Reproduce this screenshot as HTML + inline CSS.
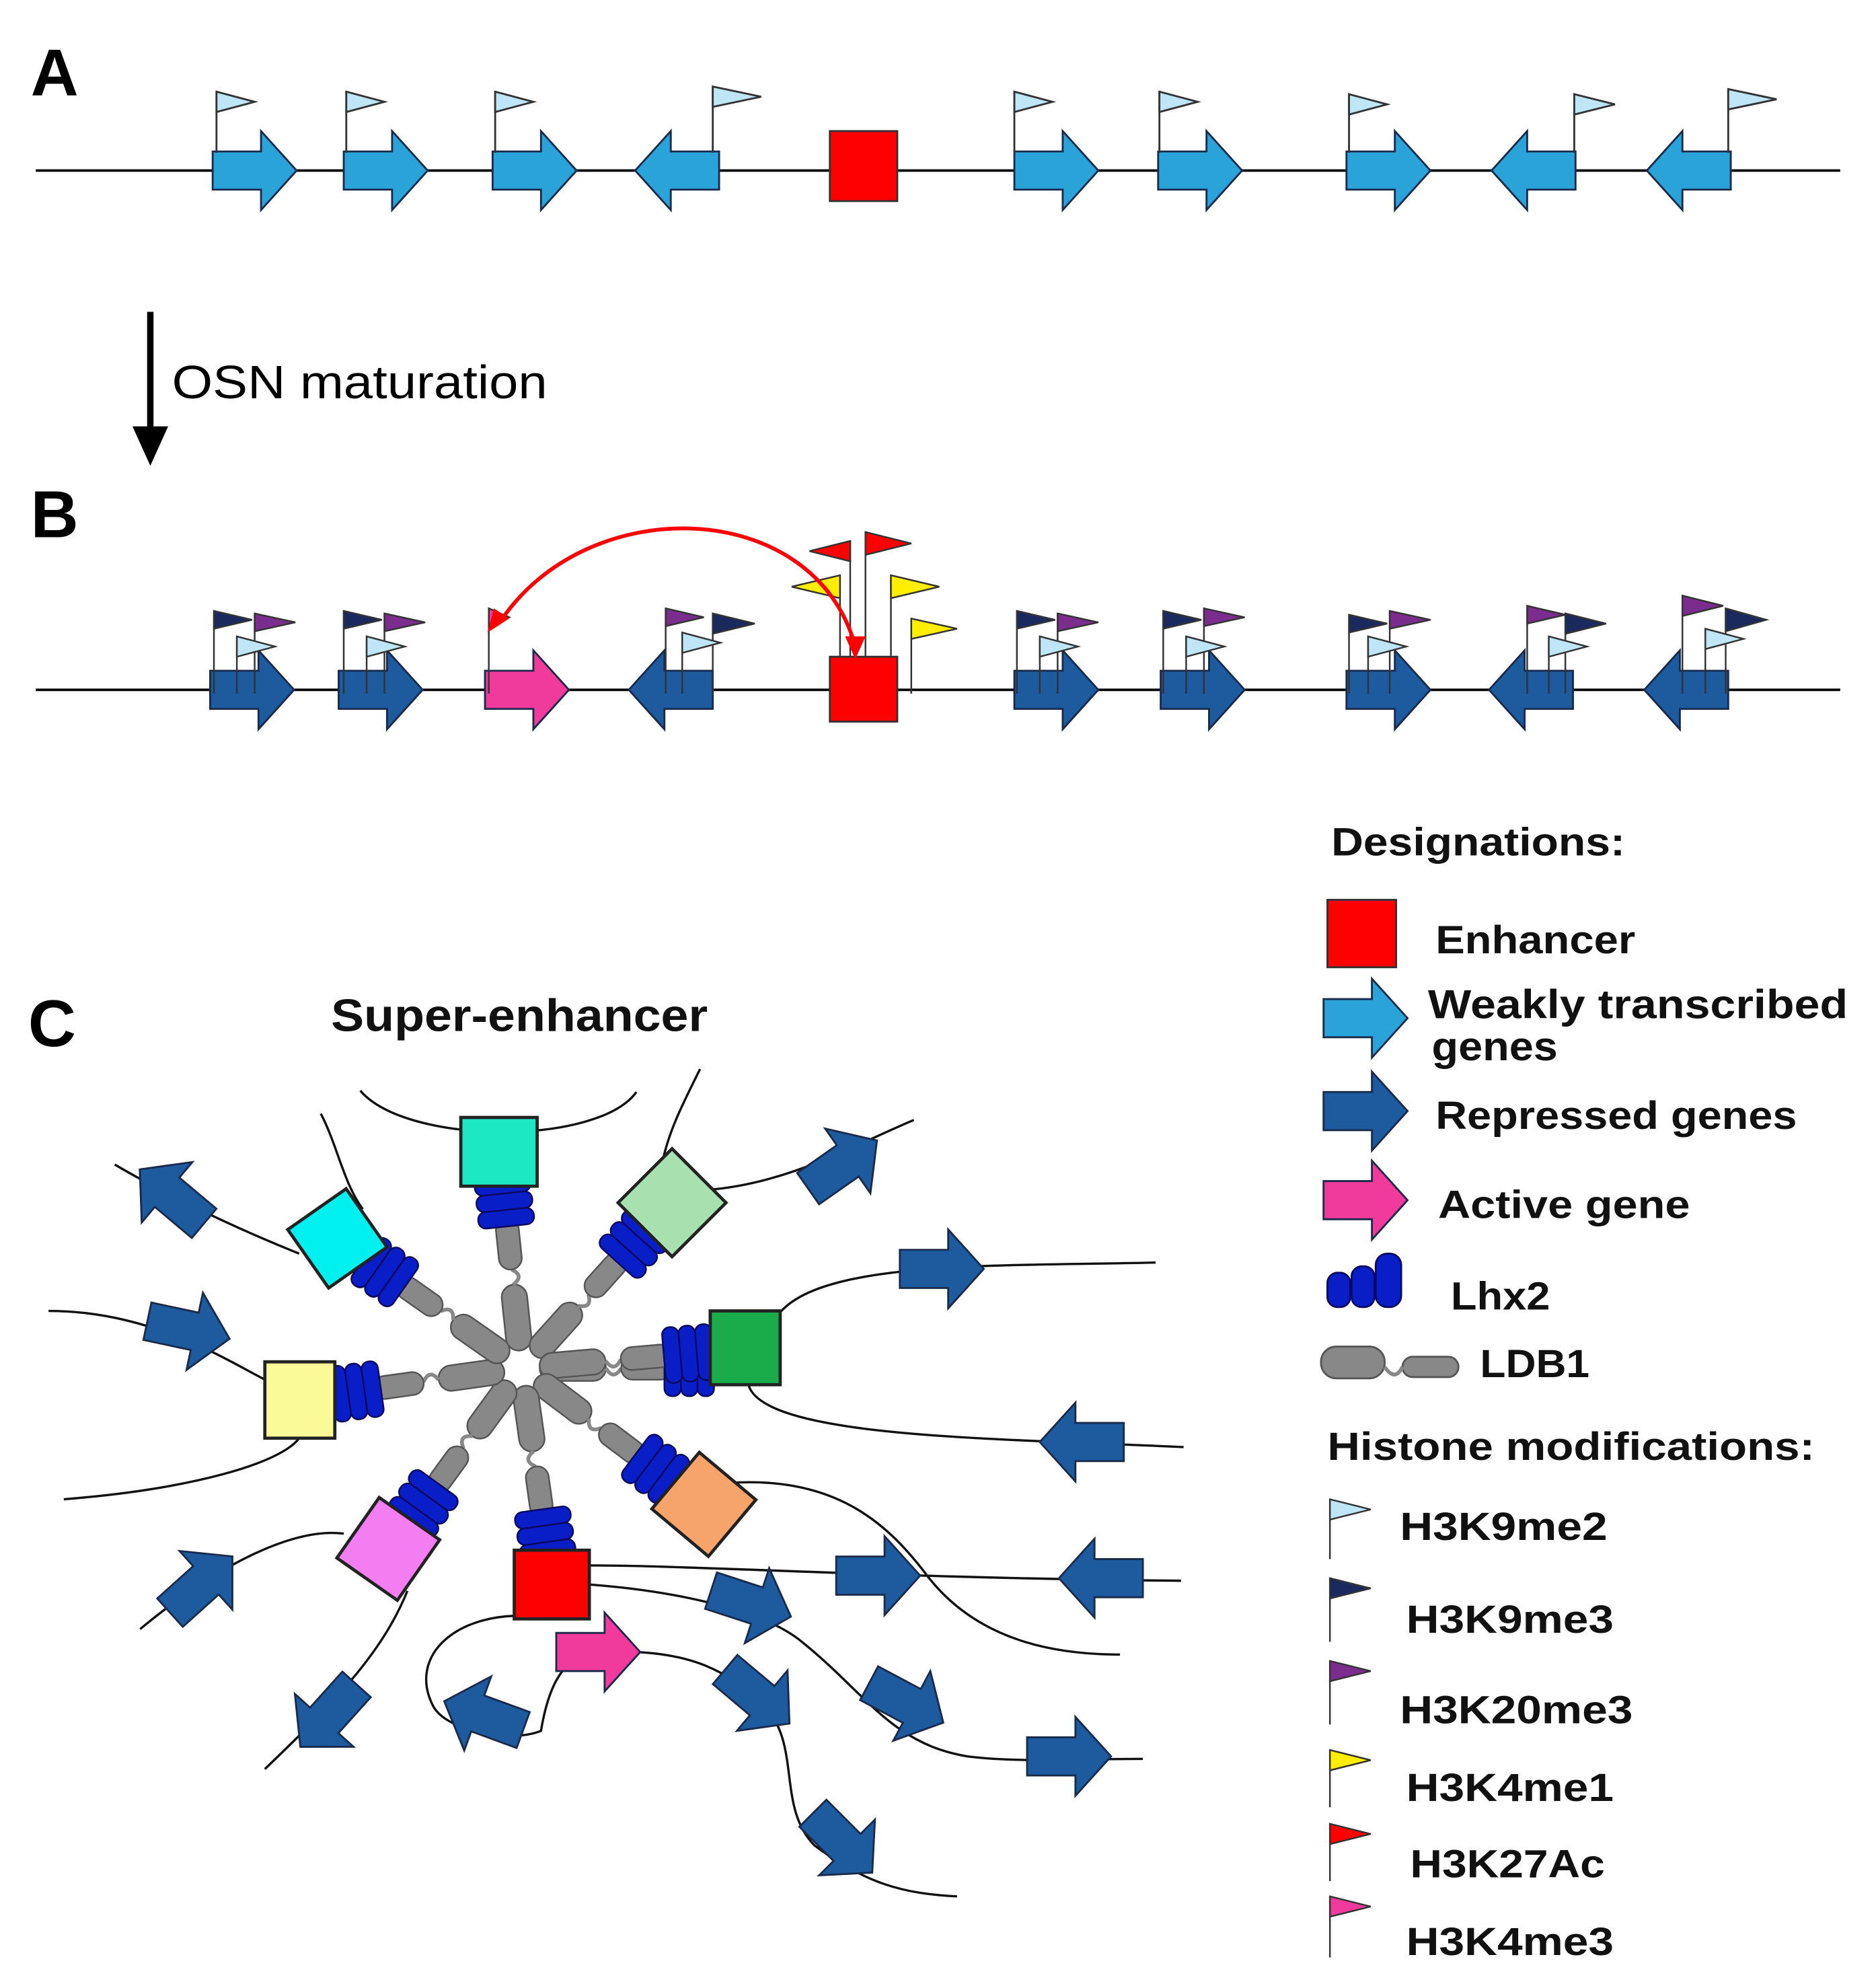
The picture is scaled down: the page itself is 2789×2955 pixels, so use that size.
<!DOCTYPE html>
<html><head><meta charset="utf-8"><style>
html,body{margin:0;padding:0;background:#fff}
svg{display:block}
text{font-family:"Liberation Sans","DejaVu Sans",sans-serif}
</style></head><body>
<svg width="2789" height="2955" viewBox="0 0 1474 1562" xmlns="http://www.w3.org/2000/svg">
<defs>
<path id="ar" d="M-33,-15 L5,-15 L5,-31 L33,0 L5,31 L5,15 L-33,15 Z" stroke="#1a2a4a" stroke-width="1.5"/>
</defs>
<rect width="1474" height="1562" fill="#fff"/>
<g font-weight="bold" font-size="52" fill="#000">
<text x="24" y="75">A</text><text x="24" y="422">B</text><text x="22" y="822">C</text>
</g>

<!-- Panel A -->
<line x1="28" y1="134" x2="1446" y2="134" stroke="#000" stroke-width="2"/>
<g fill="#29a3d8">
<use href="#ar" transform="translate(200,134)"/>
<use href="#ar" transform="translate(303,134)"/>
<use href="#ar" transform="translate(420,134)"/>
<use href="#ar" transform="translate(532,134) scale(-1,1)"/>
<use href="#ar" transform="translate(830,134)"/>
<use href="#ar" transform="translate(943,134)"/>
<use href="#ar" transform="translate(1091,134)"/>
<use href="#ar" transform="translate(1205,134) scale(-1,1)"/>
<use href="#ar" transform="translate(1327,134) scale(-1,1)"/>
</g>
<rect x="652" y="103" width="53" height="55" fill="#f00" stroke="#333" stroke-width="1.5"/>
<g stroke="#333" stroke-width="1.5" fill="#bfe6f7">
<g transform="translate(170,120)"><line x1="0" y1="0" x2="0" y2="-48"/><path d="M0,-48 L30,-40 L0,-32Z"/></g>
<g transform="translate(272,120)"><line x1="0" y1="0" x2="0" y2="-48"/><path d="M0,-48 L30,-40 L0,-32Z"/></g>
<g transform="translate(389,120)"><line x1="0" y1="0" x2="0" y2="-48"/><path d="M0,-48 L30,-40 L0,-32Z"/></g>
<g transform="translate(560,120)"><line x1="0" y1="0" x2="0" y2="-52"/><path d="M0,-52 L38,-44 L0,-36Z"/></g>
<g transform="translate(797,120)"><line x1="0" y1="0" x2="0" y2="-48"/><path d="M0,-48 L30,-40 L0,-32Z"/></g>
<g transform="translate(911,120)"><line x1="0" y1="0" x2="0" y2="-48"/><path d="M0,-48 L30,-40 L0,-32Z"/></g>
<g transform="translate(1060,120)"><line x1="0" y1="0" x2="0" y2="-46"/><path d="M0,-46 L30,-38 L0,-30Z"/></g>
<g transform="translate(1237,120)"><line x1="0" y1="0" x2="0" y2="-46"/><path d="M0,-46 L32,-38 L0,-30Z"/></g>
<g transform="translate(1358,120)"><line x1="0" y1="0" x2="0" y2="-50"/><path d="M0,-50 L38,-42 L0,-34Z"/></g>
</g>

<!-- maturation arrow -->
<line x1="118" y1="245" x2="118" y2="340" stroke="#000" stroke-width="5"/>
<path d="M104,335 L132,335 L118,366Z" fill="#000"/>
<text x="135" y="313" font-size="37" fill="#000" textLength="295" lengthAdjust="spacingAndGlyphs">OSN maturation</text>

<!-- Panel B -->
<line x1="28" y1="542" x2="1446" y2="542" stroke="#000" stroke-width="2"/>
<g fill="#1d5a9e">
<use href="#ar" transform="translate(198,542)"/>
<use href="#ar" transform="translate(299,542)"/>
<use href="#ar" transform="translate(527,542) scale(-1,1)"/>
<use href="#ar" transform="translate(830,542)"/>
<use href="#ar" transform="translate(945,542)"/>
<use href="#ar" transform="translate(1091,542)"/>
<use href="#ar" transform="translate(1203,542) scale(-1,1)"/>
<use href="#ar" transform="translate(1325,542) scale(-1,1)"/>
</g>
<use href="#ar" transform="translate(414,542)" fill="#f03a9c"/>
<rect x="652" y="516" width="53" height="51" fill="#f00" stroke="#333" stroke-width="1.5"/>
<g stroke="#333" stroke-width="1.3">
<g transform="translate(168,0)"><line x1="0" y1="545" x2="0" y2="480"/><path d="M0,480 L30,487 L0,494Z" fill="#1b2a5e"/><line x1="32" y1="545" x2="32" y2="482"/><path d="M32,482 L64,489 L32,496Z" fill="#7b2d8e"/><line x1="18" y1="545" x2="18" y2="500"/><path d="M18,500 L48,508 L18,516Z" fill="#bfe6f7"/></g>
<g transform="translate(270,0)"><line x1="0" y1="545" x2="0" y2="480"/><path d="M0,480 L30,487 L0,494Z" fill="#1b2a5e"/><line x1="32" y1="545" x2="32" y2="482"/><path d="M32,482 L64,489 L32,496Z" fill="#7b2d8e"/><line x1="18" y1="545" x2="18" y2="500"/><path d="M18,500 L48,508 L18,516Z" fill="#bfe6f7"/></g>
<g transform="translate(523,0)"><line x1="0" y1="545" x2="0" y2="478"/><path d="M0,478 L30,485 L0,492Z" fill="#7b2d8e"/><line x1="37" y1="545" x2="37" y2="482"/><path d="M37,482 L70,490 L37,498Z" fill="#1b2a5e"/><line x1="13" y1="545" x2="13" y2="497"/><path d="M13,497 L43,505 L13,513Z" fill="#bfe6f7"/></g>
<g transform="translate(799,0)"><line x1="0" y1="545" x2="0" y2="480"/><path d="M0,480 L30,487 L0,494Z" fill="#1b2a5e"/><line x1="32" y1="545" x2="32" y2="482"/><path d="M32,482 L64,489 L32,496Z" fill="#7b2d8e"/><line x1="18" y1="545" x2="18" y2="500"/><path d="M18,500 L48,508 L18,516Z" fill="#bfe6f7"/></g>
<g transform="translate(914,0)"><line x1="0" y1="545" x2="0" y2="480"/><path d="M0,480 L30,487 L0,494Z" fill="#1b2a5e"/><line x1="32" y1="545" x2="32" y2="478"/><path d="M32,478 L64,485 L32,492Z" fill="#7b2d8e"/><line x1="18" y1="545" x2="18" y2="500"/><path d="M18,500 L48,508 L18,516Z" fill="#bfe6f7"/></g>
<g transform="translate(1060,0)"><line x1="0" y1="545" x2="0" y2="483"/><path d="M0,483 L30,490 L0,497Z" fill="#1b2a5e"/><line x1="32" y1="545" x2="32" y2="480"/><path d="M32,480 L64,487 L32,494Z" fill="#7b2d8e"/><line x1="15" y1="545" x2="15" y2="500"/><path d="M15,500 L45,508 L15,516Z" fill="#bfe6f7"/></g>
<g transform="translate(1200,0)"><line x1="0" y1="545" x2="0" y2="476"/><path d="M0,476 L30,483 L0,490Z" fill="#7b2d8e"/><line x1="30" y1="545" x2="30" y2="482"/><path d="M30,482 L62,490 L30,498Z" fill="#1b2a5e"/><line x1="17" y1="545" x2="17" y2="500"/><path d="M17,500 L47,508 L17,516Z" fill="#bfe6f7"/></g>
<g transform="translate(1322,0)"><line x1="0" y1="545" x2="0" y2="468"/><path d="M0,468 L32,476 L0,484Z" fill="#7b2d8e"/><line x1="34" y1="545" x2="34" y2="478"/><path d="M34,478 L66,487 L34,496Z" fill="#1b2a5e"/><line x1="18" y1="545" x2="18" y2="494"/><path d="M18,494 L48,502 L18,510Z" fill="#bfe6f7"/></g>
<line x1="668" y1="516" x2="668" y2="425"/><path d="M668,425 L636,433 L668,441Z" fill="#f00"/>
<line x1="680" y1="516" x2="680" y2="418"/><path d="M680,418 L716,427 L680,436Z" fill="#f00"/>
<line x1="660" y1="516" x2="660" y2="452"/><path d="M660,452 L622,461 L660,470Z" fill="#ffee00"/>
<line x1="700" y1="516" x2="700" y2="452"/><path d="M700,452 L738,461 L700,470Z" fill="#ffee00"/>
<line x1="716" y1="545" x2="716" y2="486"/><path d="M716,486 L752,494 L716,502Z" fill="#ffee00"/>
<line x1="384" y1="545" x2="384" y2="478"/><path d="M384,478 L400,485 L384,492Z" fill="#f03a9c"/>
</g>
<path d="M672,508 C640,390 460,385 392,490" fill="none" stroke="#f00" stroke-width="3"/>
<path d="M383,497 L388,478 L400,486Z" fill="#f00"/>
<path d="M672,518 L664,500 L680,500Z" fill="#f00"/>

<!-- Legend -->
<g font-weight="bold" fill="#111" font-size="31">
<text x="1046" y="672" textLength="231" lengthAdjust="spacingAndGlyphs">Designations:</text>
<rect x="1043" y="707" width="54" height="53" fill="#f00" stroke="#333" stroke-width="1.5"/>
<text x="1128" y="749" textLength="157" lengthAdjust="spacingAndGlyphs">Enhancer</text>
<use href="#ar" transform="translate(1073,800)" fill="#29a3d8"/>
<text x="1122" y="800" font-size="32" textLength="330" lengthAdjust="spacingAndGlyphs">Weakly transcribed</text>
<text x="1125" y="833" font-size="32" textLength="99" lengthAdjust="spacingAndGlyphs">genes</text>
<use href="#ar" transform="translate(1073,873)" fill="#1d5a9e"/>
<text x="1128" y="887" textLength="284" lengthAdjust="spacingAndGlyphs">Repressed genes</text>
<use href="#ar" transform="translate(1073,943)" fill="#f03a9c"/>
<text x="1130" y="957" textLength="198" lengthAdjust="spacingAndGlyphs">Active gene</text>
<g fill="#0a1ec8" stroke="#0a0a60" stroke-width="1.5">
<rect x="1043" y="1000" width="18" height="27" rx="8"/><rect x="1062" y="995" width="18" height="32" rx="8"/><rect x="1081" y="985" width="20" height="42" rx="9"/>
</g>
<text x="1140" y="1029" textLength="78" lengthAdjust="spacingAndGlyphs">Lhx2</text>
<rect x="1038" y="1058" width="50" height="25" rx="12" fill="#888" stroke="#555" stroke-width="1.5"/>
<rect x="1102" y="1066" width="44" height="16" rx="8" fill="#888" stroke="#555" stroke-width="1.5"/>
<path d="M1088,1074 q8,12 14,0" fill="none" stroke="#888" stroke-width="3"/>
<text x="1163" y="1082" textLength="86" lengthAdjust="spacingAndGlyphs">LDB1</text>
<text x="1043" y="1147" textLength="383" lengthAdjust="spacingAndGlyphs">Histone modifications:</text>
<g stroke="#333" stroke-width="1.3">
<line x1="1045" y1="1225" x2="1045" y2="1178"/><path d="M1045,1178 L1077,1186 L1045,1194Z" fill="#bfe6f7"/>
<line x1="1045" y1="1290" x2="1045" y2="1240"/><path d="M1045,1240 L1077,1248 L1045,1256Z" fill="#1b2a5e"/>
<line x1="1045" y1="1355" x2="1045" y2="1305"/><path d="M1045,1305 L1077,1313 L1045,1321Z" fill="#7b2d8e"/>
<line x1="1045" y1="1420" x2="1045" y2="1375"/><path d="M1045,1375 L1077,1383 L1045,1391Z" fill="#ffee00"/>
<line x1="1045" y1="1478" x2="1045" y2="1433"/><path d="M1045,1433 L1077,1441 L1045,1449Z" fill="#f00"/>
<line x1="1045" y1="1538" x2="1045" y2="1490"/><path d="M1045,1490 L1077,1498 L1045,1506Z" fill="#f03a9c"/>
</g>
<text x="1100" y="1210" textLength="163" lengthAdjust="spacingAndGlyphs">H3K9me2</text>
<text x="1105" y="1283" textLength="163" lengthAdjust="spacingAndGlyphs">H3K9me3</text>
<text x="1100" y="1354" textLength="183" lengthAdjust="spacingAndGlyphs">H3K20me3</text>
<text x="1105" y="1415" textLength="163" lengthAdjust="spacingAndGlyphs">H3K4me1</text>
<text x="1108" y="1475" textLength="153" lengthAdjust="spacingAndGlyphs">H3K27Ac</text>
<text x="1105" y="1536" textLength="163" lengthAdjust="spacingAndGlyphs">H3K4me3</text>
</g>

<!-- Panel C -->
<text x="260" y="810" font-size="36" font-weight="bold" fill="#111" textLength="296" lengthAdjust="spacingAndGlyphs">Super-enhancer</text>
<g fill="none" stroke="#111" stroke-width="1.8">
<path d="M283,857 C320,900 470,900 500,858"/>
<path d="M252,875 C265,900 270,930 285,950"/>
<path d="M550,840 C535,870 525,890 520,915"/>
<path d="M90,915 C150,950 210,975 235,985"/>
<path d="M555,935 C620,930 670,900 718,880"/>
<path d="M38,1030 C120,1030 180,1070 210,1085"/>
<path d="M50,1178 C150,1170 220,1150 235,1130"/>
<path d="M610,1035 C640,990 780,995 908,992"/>
<path d="M588,1088 C600,1130 780,1130 930,1137"/>
<path d="M110,1280 C170,1230 230,1200 270,1205"/>
<path d="M208,1390 C260,1340 300,1300 320,1250"/>
<path d="M575,1165 C660,1160 700,1200 730,1240 C770,1290 830,1300 880,1300"/>
<path d="M463,1230 C550,1230 700,1240 928,1242"/>
<path d="M463,1245 C530,1250 600,1265 630,1290 C680,1330 700,1370 760,1380 C800,1385 840,1382 898,1382"/>
<path d="M420,1270 C360,1265 320,1300 340,1340 C350,1360 400,1370 425,1360 C430,1330 440,1300 470,1298"/>
<path d="M500,1298 C540,1300 570,1310 600,1340 C630,1370 610,1420 640,1450 C680,1480 710,1488 752,1490"/>
</g>
<g fill="#1d5a9e">
<use href="#ar" transform="translate(135,940) rotate(-140)"/>
<use href="#ar" transform="translate(148,1045) rotate(12)"/>
<use href="#ar" transform="translate(158,1245) rotate(-42)"/>
<use href="#ar" transform="translate(258,1348) rotate(132)"/>
<use href="#ar" transform="translate(380,1348) rotate(200)"/>
<use href="#ar" transform="translate(590,1260) rotate(18)"/>
<use href="#ar" transform="translate(690,1238)"/>
<use href="#ar" transform="translate(865,1240) rotate(180)"/>
<use href="#ar" transform="translate(595,1333) rotate(40)"/>
<use href="#ar" transform="translate(712,1338) rotate(28)"/>
<use href="#ar" transform="translate(840,1380)"/>
<use href="#ar" transform="translate(662,1448) rotate(45)"/>
<use href="#ar" transform="translate(662,915) rotate(-35)"/>
<use href="#ar" transform="translate(740,997)"/>
<use href="#ar" transform="translate(850,1133) rotate(180)"/>
</g>
<use href="#ar" transform="translate(470,1298)" fill="#f03a9c"/>

<g transform="translate(410,1075)">
<g id="spk">
<rect x="14" y="-10" width="52" height="20" rx="10" fill="#888" stroke="#555" stroke-width="1.3"/>
<path d="M66,0 q6,10 12,0" fill="none" stroke="#888" stroke-width="3"/>
<rect x="78" y="-9" width="40" height="18" rx="9" fill="#888" stroke="#555" stroke-width="1.3"/>
<g fill="#0a1ec8" stroke="#0a0a60" stroke-width="1.3">
<rect x="112" y="-22" width="13" height="44" rx="6"/><rect x="125" y="-22" width="13" height="44" rx="6"/><rect x="138" y="-22" width="13" height="44" rx="6"/>
</g>
</g>
<use href="#spk" transform="rotate(-96)"/>
<use href="#spk" transform="rotate(-48)"/>
<use href="#spk" transform="rotate(-5)"/>
<use href="#spk" transform="rotate(37)"/>
<use href="#spk" transform="rotate(82)"/>
<use href="#spk" transform="rotate(126)"/>
<use href="#spk" transform="rotate(172)"/>
<use href="#spk" transform="rotate(-145)"/>
</g>
<g stroke="#222" stroke-width="2.5">
<rect x="362" y="878" width="60" height="54" fill="#1de8c4"/>
<rect x="-30" y="-30" width="60" height="60" fill="#a8e0b0" transform="translate(528,945) rotate(-45)"/>
<rect x="558" y="1030" width="55" height="58" fill="#1aab4a"/>
<rect x="-29" y="-29" width="58" height="58" fill="#f7a46a" transform="translate(553,1182) rotate(40)"/>
<rect x="404" y="1218" width="59" height="54" fill="#f00"/>
<rect x="-29" y="-29" width="58" height="58" fill="#f27ef2" transform="translate(305,1217) rotate(35)"/>
<rect x="208" y="1070" width="55" height="60" fill="#fafa96"/>
<rect x="-28" y="-28" width="56" height="56" fill="#00f0f0" transform="translate(265,973) rotate(-35)"/>
</g>
</svg>
</body></html>
